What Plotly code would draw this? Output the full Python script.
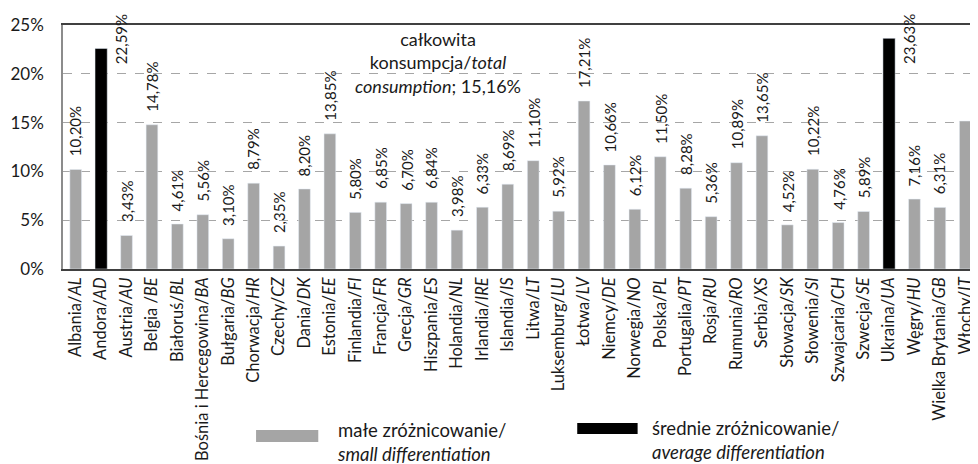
import plotly.graph_objects as go

countries = ["Albania", "Andora", "Austria", "Belgia ", "Białoruś", "Bośnia i Hercegowina", "Bułgaria",
             "Chorwacja", "Czechy", "Dania", "Estonia", "Finlandia", "Francja", "Grecja", "Hiszpania",
             "Holandia", "Irlandia", "Islandia", "Litwa", "Luksemburg", "Łotwa", "Niemcy", "Norwegia",
             "Polska", "Portugalia", "Rosja", "Rumunia", "Serbia", "Słowacja", "Słowenia", "Szwajcaria",
             "Szwecja", "Ukraina", "Węgry", "Wielka Brytania", "Włochy"]
codes = ["AL", "AD", "AU", "BE", "BL", "BA", "BG", "HR", "CZ", "DK", "EE", "FI", "FR", "GR", "ES",
         "NL", "IRE", "IS", "LT", "LU", "LV", "DE", "NO", "PL", "PT", "RU", "RO", "XS", "SK", "SI",
         "CH", "SE", "UA", "HU", "GB", "IT"]
values = [10.20, 22.59, 3.43, 14.78, 4.61, 5.56, 3.10, 8.79, 2.35, 8.20, 13.85, 5.80, 6.85, 6.70,
          6.84, 3.98, 6.33, 8.69, 11.10, 5.92, 17.21, 10.66, 6.12, 11.50, 8.28, 5.36, 10.89, 13.65,
          4.52, 10.22, 4.76, 5.89, 23.63, 7.16, 6.31, 15.16]
group = ["s", "a", "s", "s", "s", "s", "s", "s", "s", "s", "s", "s", "s", "s", "s", "s", "s", "s",
         "s", "s", "s", "s", "s", "s", "s", "s", "s", "s", "s", "s", "s", "s", "a", "s", "s", "s"]
total_name = "Włochy"
y_ticks = [0, 5, 10, 15, 20, 25]

FONT = "Lato"
GRAY = "#a5a5a5"
TXT = "#1a1a1a"

ticktext = [f"{c}/<i>{k}</i>" for c, k in zip(countries, codes)]

def fmt(v):
    return f"{v:.2f}%".replace(".", ",")

gray_y = [v if g == "s" else None for v, g in zip(values, group)]
black_y = [v if g == "a" else None for v, g in zip(values, group)]

fig = go.Figure()
fig.add_trace(go.Bar(x=countries, y=gray_y, marker_color=GRAY, width=0.46, showlegend=False))
fig.add_trace(go.Bar(x=countries, y=black_y, marker_color="#000000", width=0.48, showlegend=False))
fig.update_layout(barmode="overlay")

annotations = []
for c, v, g in zip(countries, values, group):
    if g == "a":
        annotations.append(dict(x=c, y=1, xref="x", yref="paper", text=fmt(v), textangle=-90,
                                showarrow=False, xanchor="center", yanchor="top",
                                xshift=20, yshift=13,
                                font=dict(size=15, color=TXT, family=FONT)))
    elif c != total_name:
        annotations.append(dict(x=c, y=v, xref="x", yref="y", text=fmt(v), textangle=-90,
                                showarrow=False, xanchor="center", yanchor="bottom",
                                yshift=11, font=dict(size=15, color=TXT, family=FONT)))

tot = values[countries.index(total_name)]
annotations.append(dict(xref="paper", yref="paper", x=0.41, y=0.848,
                        text=f"całkowita<br>konsumpcja/<i>total</i><br><i>consumption</i>; {fmt(tot)}",
                        showarrow=False, align="center", xanchor="center", yanchor="middle",
                        font=dict(size=18, color=TXT, family=FONT)))

annotations.append(dict(xref="paper", yref="paper", x=0.297, y=-0.709,
                        text="małe zróżnicowanie/<br><i>small differentiation</i>",
                        showarrow=False, align="left", xanchor="left", yanchor="middle",
                        font=dict(size=18.5, color=TXT, family=FONT)))
annotations.append(dict(xref="paper", yref="paper", x=0.6415, y=-0.70,
                        text="średnie zróżnicowanie/<br><i>average differentiation</i>",
                        showarrow=False, align="left", xanchor="left", yanchor="middle",
                        font=dict(size=18.5, color=TXT, family=FONT)))
shapes = [
    dict(type="rect", xref="paper", yref="paper", x0=0.211, x1=0.279, y0=-0.709, y1=-0.660,
         fillcolor=GRAY, line=dict(width=0)),
    dict(type="rect", xref="paper", yref="paper", x0=0.562, x1=0.628, y0=-0.676, y1=-0.631,
         fillcolor="#000000", line=dict(width=0)),
]

fig.update_layout(
    width=970, height=456,
    margin=dict(l=55, r=0, t=17, b=195, autoexpand=False),
    paper_bgcolor="white", plot_bgcolor="white",
    separators=", ",
    font=dict(family=FONT, color=TXT),
    annotations=annotations, shapes=shapes,
    xaxis=dict(type="category", categoryorder="array", categoryarray=countries,
               tickvals=countries, ticktext=ticktext, tickangle=-90, automargin=False,
               tickfont=dict(size=16.5, family=FONT, color=TXT),
               showline=True, linecolor="#404040", linewidth=1.5, mirror=True,
               ticks="", showgrid=False),
    yaxis=dict(range=[0, 25], tickvals=y_ticks, ticktext=[f"{t}%" for t in y_ticks],
               automargin=False,
               tickfont=dict(size=17, family=FONT, color=TXT),
               showgrid=True, gridcolor="#a6a6a6", griddash="dash", gridwidth=1,
               zeroline=False, showline=True, linecolor="#8c8c8c", linewidth=1.5,
               ticks="", ticklabelstandoff=14),
)

fig.write_html("out.html")
